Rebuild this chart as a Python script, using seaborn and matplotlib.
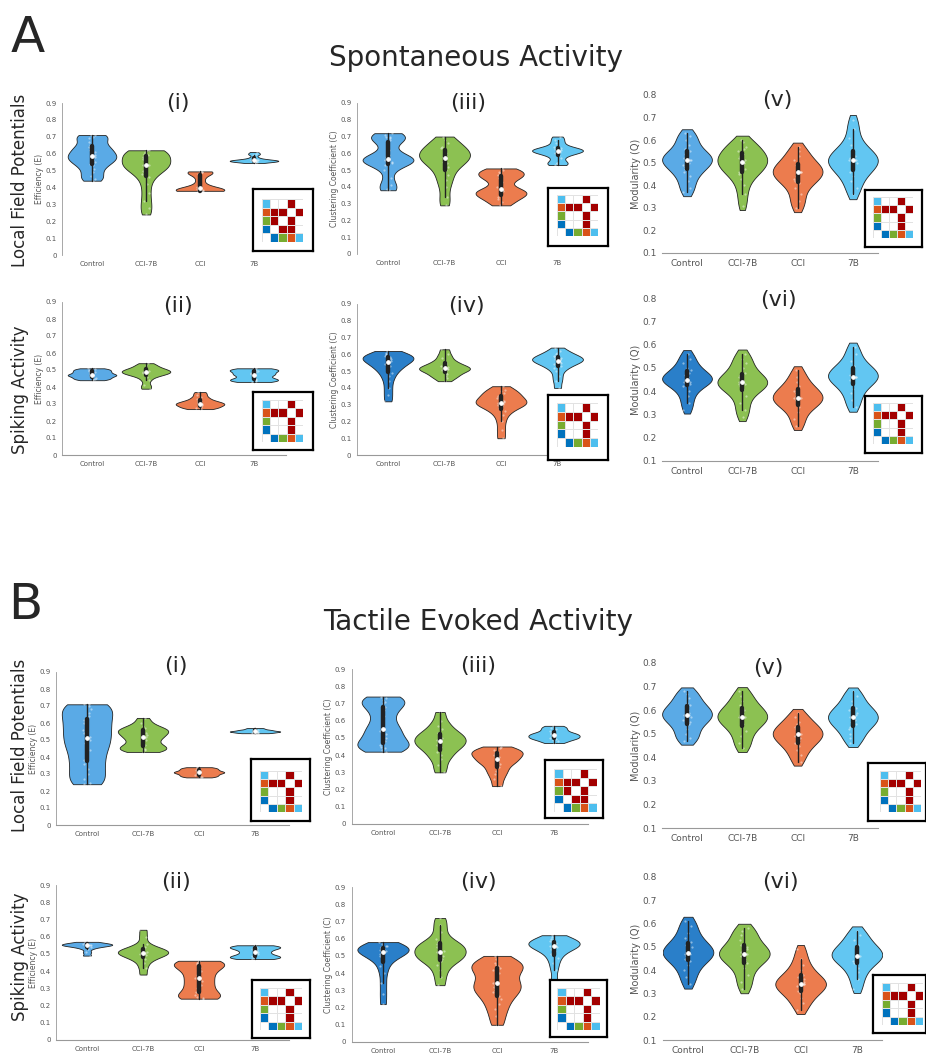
import numpy as np
import pandas as pd
import matplotlib
matplotlib.use("Agg")
import matplotlib.pyplot as plt
from matplotlib.colors import ListedColormap
import seaborn as sns

# ---------------- data ----------------
cats = ["Control", "CCI-7B", "CCI", "7B"]

eff_ticks = [0, 0.1, 0.2, 0.3, 0.4, 0.5, 0.6, 0.7, 0.8, 0.9]
eff_labels = ["0", "0.1", "0.2", "0.3", "0.4", "0.5", "0.6", "0.7", "0.8", "0.9"]
mod_ticks = [0.1, 0.2, 0.3, 0.4, 0.5, 0.6, 0.7, 0.8]
mod_labels = ["0.1", "0.2", "0.3", "0.4", "0.5", "0.6", "0.7", "0.8"]

# Spontaneous activity
A_i = {
    "Control": [0.44, 0.45, 0.47, 0.49, 0.51, 0.53, 0.54, 0.55, 0.56, 0.57, 0.58, 0.58, 0.59, 0.60, 0.61, 0.62, 0.63, 0.64, 0.65, 0.67, 0.69, 0.70, 0.71, 0.71],
    "CCI-7B": [0.24, 0.28, 0.32, 0.37, 0.42, 0.46, 0.48, 0.50, 0.51, 0.52, 0.53, 0.53, 0.54, 0.55, 0.56, 0.57, 0.58, 0.59, 0.60, 0.61, 0.62, 0.62, 0.62],
    "CCI": [0.38, 0.38, 0.38, 0.38, 0.385, 0.39, 0.39, 0.40, 0.42, 0.45, 0.48, 0.49, 0.49, 0.495],
    "7B": [0.545, 0.55, 0.552, 0.555, 0.555, 0.556, 0.558, 0.56, 0.56, 0.562, 0.565, 0.57, 0.58, 0.595, 0.60, 0.61],
}
A_ii = {
    "Control": [0.44, 0.445, 0.45, 0.455, 0.46, 0.465, 0.47, 0.47, 0.475, 0.48, 0.485, 0.49, 0.495, 0.50, 0.505, 0.51],
    "CCI-7B": [0.39, 0.41, 0.44, 0.46, 0.47, 0.475, 0.48, 0.485, 0.49, 0.49, 0.495, 0.50, 0.505, 0.51, 0.52, 0.53, 0.54],
    "CCI": [0.27, 0.275, 0.28, 0.285, 0.29, 0.295, 0.30, 0.30, 0.305, 0.31, 0.315, 0.32, 0.33, 0.34, 0.355, 0.37],
    "7B": [0.43, 0.435, 0.44, 0.445, 0.45, 0.46, 0.47, 0.475, 0.48, 0.49, 0.495, 0.50, 0.505, 0.51],
}
A_iii = {
    "Control": [0.38, 0.39, 0.41, 0.45, 0.50, 0.53, 0.54, 0.55, 0.555, 0.56, 0.56, 0.565, 0.57, 0.58, 0.59, 0.62, 0.66, 0.68, 0.69, 0.70, 0.70, 0.71, 0.72],
    "CCI-7B": [0.29, 0.34, 0.40, 0.44, 0.47, 0.50, 0.52, 0.54, 0.55, 0.56, 0.57, 0.58, 0.59, 0.60, 0.61, 0.62, 0.63, 0.64, 0.66, 0.68, 0.70],
    "CCI": [0.29, 0.31, 0.33, 0.34, 0.35, 0.36, 0.37, 0.375, 0.38, 0.40, 0.43, 0.45, 0.46, 0.47, 0.48, 0.49, 0.50, 0.51],
    "7B": [0.53, 0.54, 0.545, 0.57, 0.59, 0.60, 0.605, 0.61, 0.615, 0.62, 0.62, 0.625, 0.63, 0.64, 0.66, 0.68, 0.70],
}
A_iv = {
    "Control": [0.32, 0.36, 0.40, 0.44, 0.47, 0.49, 0.51, 0.52, 0.53, 0.54, 0.55, 0.56, 0.565, 0.57, 0.575, 0.58, 0.585, 0.59, 0.595, 0.60, 0.61, 0.62],
    "CCI-7B": [0.44, 0.46, 0.47, 0.48, 0.49, 0.50, 0.505, 0.51, 0.515, 0.52, 0.525, 0.53, 0.54, 0.55, 0.56, 0.58, 0.60, 0.63],
    "CCI": [0.10, 0.15, 0.20, 0.24, 0.26, 0.28, 0.29, 0.30, 0.305, 0.31, 0.315, 0.32, 0.33, 0.34, 0.35, 0.36, 0.37, 0.38, 0.39, 0.41],
    "7B": [0.40, 0.44, 0.47, 0.50, 0.52, 0.53, 0.54, 0.55, 0.555, 0.56, 0.565, 0.57, 0.575, 0.58, 0.585, 0.59, 0.60, 0.61, 0.62, 0.64],
}
A_v = {
    "Control": [0.37, 0.39, 0.42, 0.44, 0.46, 0.47, 0.48, 0.49, 0.50, 0.51, 0.51, 0.52, 0.52, 0.53, 0.54, 0.55, 0.56, 0.58, 0.60, 0.62, 0.63],
    "CCI-7B": [0.31, 0.36, 0.40, 0.43, 0.45, 0.46, 0.47, 0.48, 0.49, 0.50, 0.51, 0.51, 0.52, 0.53, 0.54, 0.55, 0.56, 0.57, 0.59, 0.60],
    "CCI": [0.30, 0.33, 0.36, 0.39, 0.41, 0.42, 0.43, 0.44, 0.45, 0.46, 0.46, 0.47, 0.48, 0.49, 0.50, 0.51, 0.53, 0.55, 0.57],
    "7B": [0.36, 0.39, 0.42, 0.44, 0.46, 0.47, 0.48, 0.49, 0.50, 0.51, 0.51, 0.52, 0.53, 0.54, 0.55, 0.56, 0.58, 0.61, 0.65, 0.69],
}
A_vi = {
    "Control": [0.32, 0.35, 0.38, 0.40, 0.42, 0.43, 0.44, 0.44, 0.45, 0.45, 0.46, 0.46, 0.47, 0.48, 0.49, 0.50, 0.52, 0.54, 0.56],
    "CCI-7B": [0.29, 0.32, 0.35, 0.38, 0.40, 0.41, 0.42, 0.43, 0.43, 0.44, 0.44, 0.45, 0.46, 0.47, 0.48, 0.50, 0.52, 0.54, 0.56],
    "CCI": [0.25, 0.28, 0.31, 0.33, 0.34, 0.35, 0.36, 0.37, 0.37, 0.38, 0.39, 0.40, 0.41, 0.42, 0.44, 0.46, 0.49],
    "7B": [0.33, 0.36, 0.39, 0.41, 0.43, 0.44, 0.45, 0.46, 0.46, 0.47, 0.48, 0.49, 0.50, 0.51, 0.53, 0.56, 0.59],
}

# Tactile evoked activity
B_i = {
    "Control": [0.24, 0.25, 0.27, 0.30, 0.33, 0.36, 0.38, 0.41, 0.44, 0.46, 0.48, 0.50, 0.52, 0.54, 0.56, 0.58, 0.60, 0.62, 0.64, 0.66, 0.68, 0.70, 0.71, 0.71],
    "CCI-7B": [0.43, 0.44, 0.445, 0.45, 0.46, 0.47, 0.48, 0.50, 0.51, 0.52, 0.53, 0.54, 0.55, 0.555, 0.56, 0.57, 0.58, 0.60, 0.63],
    "CCI": [0.28, 0.285, 0.29, 0.295, 0.30, 0.305, 0.31, 0.31, 0.315, 0.32, 0.325, 0.33, 0.335, 0.34],
    "7B": [0.54, 0.542, 0.545, 0.547, 0.55, 0.55, 0.552, 0.555, 0.558, 0.56, 0.565, 0.57],
}
B_ii = {
    "Control": [0.49, 0.51, 0.53, 0.54, 0.545, 0.55, 0.55, 0.552, 0.555, 0.558, 0.56, 0.565, 0.57],
    "CCI-7B": [0.38, 0.42, 0.45, 0.47, 0.48, 0.49, 0.495, 0.50, 0.505, 0.51, 0.515, 0.52, 0.525, 0.53, 0.54, 0.56, 0.60, 0.64],
    "CCI": [0.24, 0.245, 0.25, 0.26, 0.28, 0.30, 0.32, 0.34, 0.36, 0.38, 0.40, 0.42, 0.43, 0.44, 0.45, 0.455, 0.46],
    "7B": [0.47, 0.475, 0.48, 0.485, 0.49, 0.50, 0.51, 0.52, 0.53, 0.535, 0.54, 0.545, 0.55],
}
B_iii = {
    "Control": [0.42, 0.43, 0.44, 0.45, 0.46, 0.47, 0.48, 0.50, 0.52, 0.54, 0.55, 0.57, 0.60, 0.63, 0.66, 0.68, 0.70, 0.71, 0.72, 0.73, 0.74],
    "CCI-7B": [0.30, 0.34, 0.38, 0.40, 0.42, 0.44, 0.45, 0.46, 0.47, 0.48, 0.49, 0.50, 0.51, 0.52, 0.53, 0.55, 0.57, 0.60, 0.65],
    "CCI": [0.22, 0.26, 0.29, 0.31, 0.33, 0.35, 0.36, 0.37, 0.38, 0.39, 0.40, 0.41, 0.415, 0.42, 0.43, 0.44, 0.45],
    "7B": [0.47, 0.48, 0.49, 0.495, 0.50, 0.505, 0.51, 0.515, 0.52, 0.525, 0.53, 0.54, 0.55, 0.56, 0.57],
}
B_iv = {
    "Control": [0.22, 0.28, 0.34, 0.40, 0.44, 0.47, 0.49, 0.50, 0.51, 0.52, 0.525, 0.53, 0.535, 0.54, 0.545, 0.55, 0.555, 0.56, 0.57, 0.58],
    "CCI-7B": [0.33, 0.38, 0.42, 0.45, 0.47, 0.48, 0.49, 0.50, 0.51, 0.52, 0.53, 0.54, 0.55, 0.56, 0.57, 0.58, 0.60, 0.64, 0.68, 0.72],
    "CCI": [0.10, 0.15, 0.19, 0.22, 0.25, 0.27, 0.29, 0.30, 0.32, 0.33, 0.34, 0.36, 0.38, 0.40, 0.42, 0.43, 0.44, 0.45, 0.46, 0.48, 0.50],
    "7B": [0.30, 0.36, 0.42, 0.46, 0.49, 0.51, 0.53, 0.54, 0.55, 0.555, 0.56, 0.565, 0.57, 0.575, 0.58, 0.585, 0.59, 0.60, 0.61, 0.62],
}
B_v = {
    "Control": [0.47, 0.48, 0.50, 0.52, 0.54, 0.55, 0.56, 0.57, 0.58, 0.58, 0.59, 0.60, 0.61, 0.62, 0.63, 0.65, 0.67, 0.68],
    "CCI-7B": [0.44, 0.46, 0.49, 0.51, 0.53, 0.54, 0.55, 0.56, 0.57, 0.57, 0.58, 0.59, 0.60, 0.61, 0.62, 0.64, 0.66, 0.68],
    "CCI": [0.38, 0.41, 0.43, 0.45, 0.46, 0.47, 0.48, 0.49, 0.50, 0.50, 0.51, 0.52, 0.53, 0.54, 0.55, 0.57, 0.59],
    "7B": [0.46, 0.48, 0.50, 0.52, 0.53, 0.54, 0.55, 0.56, 0.57, 0.57, 0.58, 0.59, 0.60, 0.61, 0.62, 0.64, 0.66, 0.68],
}
B_vi = {
    "Control": [0.34, 0.37, 0.40, 0.42, 0.44, 0.45, 0.46, 0.47, 0.47, 0.48, 0.49, 0.50, 0.51, 0.52, 0.54, 0.56, 0.59, 0.61],
    "CCI-7B": [0.32, 0.35, 0.38, 0.41, 0.43, 0.44, 0.45, 0.46, 0.47, 0.47, 0.48, 0.49, 0.50, 0.51, 0.53, 0.55, 0.57, 0.58],
    "CCI": [0.23, 0.26, 0.28, 0.30, 0.31, 0.32, 0.33, 0.34, 0.34, 0.35, 0.36, 0.37, 0.38, 0.40, 0.42, 0.45, 0.49],
    "7B": [0.32, 0.36, 0.39, 0.41, 0.43, 0.44, 0.45, 0.46, 0.46, 0.47, 0.48, 0.49, 0.50, 0.51, 0.53, 0.55, 0.57],
}

# significance matrices (rows: 7B, CCI, CCI-7B, Control ; cols: Control, CCI-7B, CCI, 7B)
sig_common = [[0, 0, 1, 0], [1, 1, 0, 1], [0, 0, 1, 0], [0, 0, 1, 0]]
sig_alt = [[0, 0, 1, 0], [1, 1, 0, 1], [1, 0, 1, 0], [0, 1, 1, 0]]

# ---------------- style ----------------
sns.set_style("white")
plt.rcParams["font.family"] = ["DejaVu Sans"]

W, H = 926, 1056
fig = plt.figure(figsize=(W / 100, H / 100), dpi=100)


def fbox(l, t, r, b):
    return [l / W, 1 - b / H, (r - l) / W, (b - t) / H]


light_blue_ctrl = "#5aaae6"
dark_blue_ctrl = "#2a7fc9"
other_cols = ["#8cc152", "#ec7c4e", "#62c6f2"]
mat_cmap = ListedColormap(["white", "#a30000", "#0072bd", "#77ac30", "#d95319", "#4dbeee"])

panels = [
    (A_i, 92, 54, 255, 103, "eff", "(i)", (178, 103), (253, 189, 313, 251), (262, 199, 303, 242), sig_alt, False, False),
    (A_ii, 92, 54, 455, 302, "eff", "(ii)", (178, 306), (253, 392, 313, 450), (262, 400, 303, 442), sig_common, True, False),
    (A_iii, 388, 56.5, 254, 103, "clu", "(iii)", (468, 103), (548, 188, 608, 246), (557, 195, 598, 236), sig_common, False, False),
    (A_iv, 388, 56.5, 455, 304, "clu", "(iv)", (466, 306), (548, 395, 608, 460), (557, 403, 598, 447), sig_common, True, True),
    (A_v, 687, 55.3, 253, 95, "mod", "(v)", (777, 100), (865, 190, 922, 247), (873, 197, 913, 238), sig_common, True, False),
    (A_vi, 687, 55.3, 461, 298, "mod", "(vi)", (778, 300), (865, 396, 922, 453), (873, 403, 913, 444), sig_common, True, True),
    (B_i, 87, 56, 825, 672, "eff", "(i)", (176, 666), (251, 759, 310, 821), (260, 771, 302, 812), sig_common, True, False),
    (B_ii, 87, 56, 1040, 885, "eff", "(ii)", (176, 882), (252, 980, 310, 1038), (260, 988, 302, 1030), sig_common, True, False),
    (B_iii, 383, 57, 824, 669, "clu", "(iii)", (478, 666), (545, 760, 603, 818), (554, 769, 597, 812), sig_alt, True, False),
    (B_iv, 383, 57, 1042, 887, "clu", "(iv)", (478, 882), (550, 980, 607, 1037), (557, 988, 600, 1030), sig_common, True, True),
    (B_v, 687, 55.3, 828, 663, "mod", "(v)", (768, 668), (868, 763, 926, 821), (880, 771, 921, 812), sig_common, True, False),
    (B_vi, 688, 56.3, 1040, 877, "mod", "(vi)", (780, 882), (873, 975, 926, 1033), (882, 983, 923, 1025), sig_common, True, True),
]

for (data, cx0, dx, yb, yt, kind, title, txy, frame, mbox, sig, bspine, darkc) in panels:
    if kind == "mod":
        xlim = (-0.45, 3.45)
        ylim = (0.1, 0.8)
        ticks, labels = mod_ticks, mod_labels
        ylabel = "Modularity (Q)"
        tfs, lfs = 6.5, 7
        cut, bwa = 0.6, 0.8
    else:
        xlim = (-0.55, 3.6)
        ylim = (0.0, 0.9)
        ticks, labels = eff_ticks, eff_labels
        ylabel = "Efficiency (E)" if kind == "eff" else "Clustering Coefficient (C)"
        tfs, lfs = 5, 5.5
        cut, bwa = 0, 0.6
    left = cx0 + xlim[0] * dx
    right = cx0 + xlim[1] * dx
    ax = fig.add_axes(fbox(left, yt, right, yb))
    rows = []
    for c in cats:
        for v in data[c]:
            rows.append((c, v))
    df = pd.DataFrame(rows, columns=["group", "value"])
    pal = dict(zip(cats, [dark_blue_ctrl if darkc else light_blue_ctrl] + other_cols))
    sns.violinplot(data=df, x="group", y="value", hue="group", order=cats, hue_order=cats,
                   palette=pal, legend=False, cut=cut, inner="box", density_norm="width",
                   width=0.9, bw_adjust=bwa, linewidth=0.6, linecolor="#222222", saturation=1,
                   inner_kws=dict(box_width=3.2, whis_width=1.0, marker="o"), ax=ax)
    sns.stripplot(data=df, x="group", y="value", order=cats, color="white", alpha=0.45,
                  size=1.6, jitter=0.07, linewidth=0, ax=ax, zorder=1.5)
    ax.set_xlim(*xlim)
    ax.set_ylim(*ylim)
    ax.set_yticks(ticks)
    ax.set_yticklabels(labels)
    ax.set_xlabel("")
    ax.set_ylabel(ylabel, fontsize=lfs, color="#555555", labelpad=1)
    ax.tick_params(axis="both", labelsize=tfs, colors="#555555", length=2, width=0.5, pad=2)
    ax.tick_params(axis="x", pad=2.5)
    for s in ["top", "right"]:
        ax.spines[s].set_visible(False)
    ax.spines["left"].set_visible(kind != "mod")
    ax.spines["left"].set_color("#999999")
    ax.spines["left"].set_linewidth(0.6)
    ax.spines["bottom"].set_visible(bspine)
    ax.spines["bottom"].set_color("#999999")
    ax.spines["bottom"].set_linewidth(0.8)
    ax.patch.set_alpha(0)

    fig.text(txy[0] / W, 1 - txy[1] / H, title, fontsize=16, ha="center", va="center")

    fax = fig.add_axes(fbox(*frame))
    fax.set_xticks([])
    fax.set_yticks([])
    for s in fax.spines.values():
        s.set_color("black")
        s.set_linewidth(1.6)
        s.set_visible(True)
    fax.patch.set_facecolor("white")
    mat = np.zeros((5, 5))
    mat[0:4, 1:5] = np.array(sig)
    mat[0:4, 0] = [5, 4, 3, 2]
    mat[4, 1:5] = [2, 3, 4, 5]
    iax = fig.add_axes(fbox(*mbox))
    sns.heatmap(mat, cmap=mat_cmap, vmin=-0.5, vmax=5.5, cbar=False, linewidths=0.4,
                linecolor="#e2e2e2", square=False, xticklabels=False, yticklabels=False, ax=iax)
    iax.set_xticks([])
    iax.set_yticks([])

fig.text(28 / W, 1 - 38 / H, "A", fontsize=36, ha="center", va="center")
fig.text(25 / W, 1 - 605 / H, "B", fontsize=36, ha="center", va="center")
fig.text(476 / W, 1 - 58 / H, "Spontaneous Activity", fontsize=20, ha="center", va="center")
fig.text(478 / W, 1 - 622 / H, "Tactile Evoked Activity", fontsize=20, ha="center", va="center")
for (y, s) in [(180, "Local Field Potentials"), (390, "Spiking Activity"),
               (745, "Local Field Potentials"), (957, "Spiking Activity")]:
    fig.text(20 / W, 1 - y / H, s, fontsize=12, rotation=90, ha="center", va="center")

fig.savefig("out.png", dpi=100, facecolor="white")
